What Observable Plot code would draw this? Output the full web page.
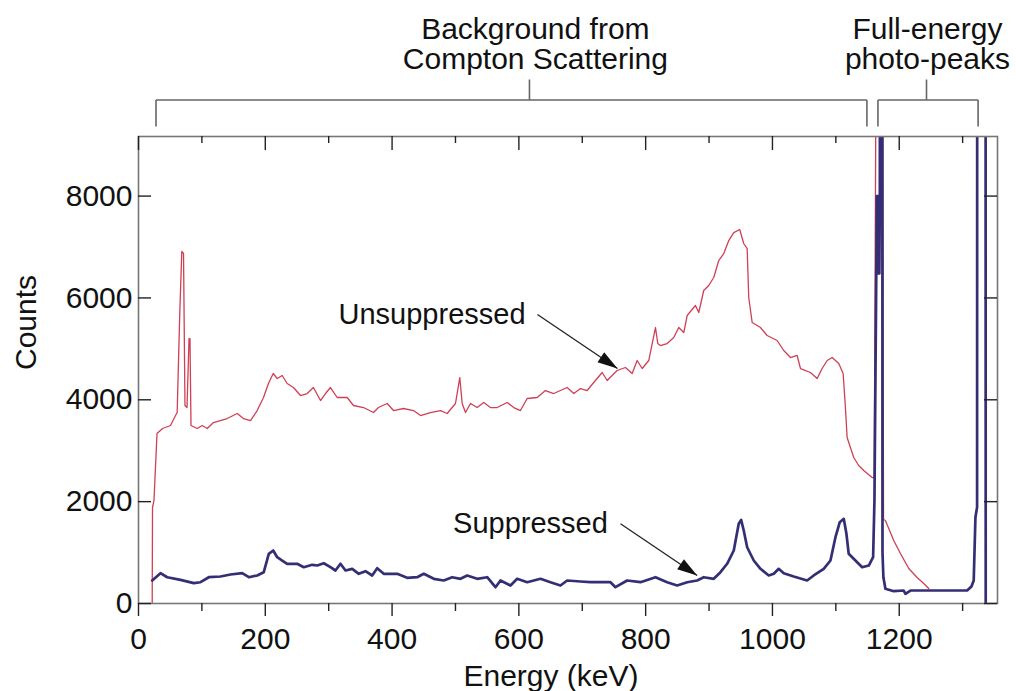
<!DOCTYPE html>
<html>
<head>
<meta charset="utf-8">
<script src="https://cdn.jsdelivr.net/npm/d3@7"></script>
<script src="https://cdn.jsdelivr.net/npm/@observablehq/plot@0.6"></script>
<style>
  html, body { margin: 0; padding: 0; background: #fff; }
  #chart svg { display: block; }
</style>
</head>
<body>
<div id="chart"></div>
<script>
// ---- Data (energy keV, counts) ----
const unsuppressed = [
  [21.6,0],[22.1,1885],[24.4,2022],[29.2,3338],[37.9,3436],[50.5,3495],[58.4,3691],[61.0,3750],
  [65.1,5694],[68.3,6912],[71.0,6872],[73.3,3888],[76.5,3848],[79.7,5203],[81.2,5203],[82.8,3495],
  [92.6,3436],[100.5,3495],[108.4,3436],[118.3,3554],[139.9,3632],[155.7,3731],[165.6,3632],[176.7,3593],
  [187.2,3789],[197.2,4045],[205.0,4320],[212.5,4516],[218.8,4418],[226.7,4477],[234.5,4320],[244.5,4241],
  [255.5,4084],[266.1,4123],[276.0,4241],[287.1,3986],[295.0,4123],[302.8,4241],[313.4,4045],[329.2,4045],
  [339.1,3888],[354.9,3848],[370.7,3750],[378.5,3848],[392.3,3927],[402.2,3789],[418.0,3829],[433.8,3789],
  [444.8,3691],[460.6,3750],[476.3,3789],[486.9,3731],[500.0,3927],[506.8,4437],[510.6,3927],[515.8,3750],
  [523.7,3927],[534.2,3848],[544.6,3947],[555.2,3848],[565.8,3848],[581.5,3947],[592.0,3848],[602.5,3789],
  [613.1,4025],[628.9,4045],[641.9,4182],[655.0,4123],[665.6,4182],[676.2,4241],[686.6,4123],[697.2,4221],
  [707.7,4182],[718.1,4339],[731.4,4536],[739.3,4379],[755.0,4575],[768.1,4634],[778.7,4516],[786.6,4771],
  [794.5,4614],[804.9,4771],[810.3,5105],[815.5,5419],[819.1,5105],[823.3,5066],[833.9,5105],[844.3,5223],
  [852.2,5419],[860.1,5321],[865.5,5655],[878.5,5851],[883.8,5714],[891.6,6146],[899.5,6244],[907.4,6401],
  [915.3,6735],[923.2,6872],[931.1,7127],[939.0,7284],[948.4,7343],[954.7,7069],[960.1,6970],[962.6,6008],
  [968.0,5517],[981.1,5419],[991.6,5262],[1007.4,5164],[1017.8,4968],[1028.4,4830],[1038.9,4870],[1044.2,4614],
  [1059.9,4536],[1070.5,4418],[1078.4,4614],[1086.3,4771],[1094.2,4830],[1104.6,4712],[1111.5,4516],[1115.1,3848],
  [1117.8,3259],[1128.2,2867],[1136.1,2710],[1144.0,2611],[1157.3,2474],[1160.5,2470],[1163.9,12000],[1173.6,12000],
  [1175.2,1650],[1178.2,1630],[1191.3,1237],[1201.9,982],[1215.0,687],[1228.2,511],[1238.6,393],[1246.5,295]
];
const suppressed = [
  [21.6,452],[34.7,595],[45.3,516],[66.2,465],[87.2,399],[97.8,418],[110.9,516],[129.3,530],
  [145.1,569],[163.6,595],[174.0,516],[187.2,550],[197.6,615],[205.5,976],[212.5,1041],[218.8,909],
  [226.7,844],[234.5,780],[250.3,780],[260.7,713],[274.0,760],[281.9,746],[292.3,791],[302.8,713],
  [310.7,648],[318.6,780],[326.5,648],[337.1,681],[347.5,583],[358.0,634],[368.6,550],[376.5,693],
  [386.9,583],[408.0,583],[423.8,505],[439.6,516],[450.0,583],[465.8,485],[481.5,452],[494.8,516],
  [507.9,485],[518.5,550],[534.2,485],[550.0,516],[563.1,320],[571.0,452],[586.8,353],[597.3,485],
  [613.1,418],[634.1,485],[649.8,418],[665.6,353],[676.2,452],[697.2,432],[712.9,418],[728.7,418],
  [744.5,418],[752.4,320],[770.8,452],[791.8,418],[815.5,516],[833.9,418],[849.7,353],[865.5,418],
  [881.2,452],[891.6,516],[907.4,485],[918.0,615],[928.5,780],[939.0,1041],[946.8,1565],[950.6,1643],
  [954.7,1433],[960.1,1105],[970.5,844],[981.1,681],[994.2,550],[1002.1,583],[1009.9,681],[1017.8,595],
  [1033.6,530],[1054.7,452],[1065.1,550],[1080.9,681],[1091.5,844],[1099.4,1302],[1106.2,1596],[1112.5,1663],
  [1116.7,1369],[1120.3,976],[1130.9,844],[1141.5,713],[1151.9,746],[1158.8,909],[1160.9,2022],[1163.8,6480],
  [1164.6,8000],[1165.4,6480],[1166.2,8000],[1167.0,6480],[1167.8,8000],[1168.6,6480],[1169.4,8000],[1170.5,40000],
  [1172.5,40000],[1173.6,1000],[1175.0,516],[1178.2,289],[1191.3,242],[1207.1,255],[1209.8,190],[1217.7,255],
  [1307.1,255],[1313.9,334],[1317.5,452],[1320.2,1694],[1322.8,1890],[1323.5,40000],[1335.8,40000],[1336.4,0]
];

const xMajorTicks = [0, 200, 400, 600, 800, 1000, 1200];
const xMinorTicks = [100, 300, 500, 700, 900, 1100, 1300];
const yTicks = [0, 2000, 4000, 6000, 8000];

const xLabel = "Energy (keV)";
const yLabel = "Counts";

// annotation brackets above the plot (in data units)
const brackets = [
  {x1: 27.6, x2: 1149, stem: 616.7, labelX: 626, label: "Background from\nCompton Scattering"},
  {x1: 1166.4, x2: 1324.4, stem: 1243, labelX: 1244.5, label: "Full-energy\nphoto-peaks"}
];
const bracketLevels = {bar: 9886, end: 9366, stem: 10289, text: 10505};

// curve labels + arrows
const curveLabels = [
  {label: "Unsuppressed", x: 463, y: 5488, ax1: 629.3, ay1: 5675, ax2: 755.5, ay2: 4614},
  {label: "Suppressed", x: 618.3, y: 1384, ax1: 760.3, ay1: 1565, ax2: 881.2, ay2: 550}
];

// ---- Style ----
const FONT = "'Liberation Sans', Arial, Helvetica, sans-serif";
const RED = "#cf3f55";
const BLUE = "#342f75";
const W = 1016, H = 691, ML = 138, MR = 19, MT = 136, MB = 88;
const innerW = W - ML - MR, innerH = H - MT - MB;

// filled arrowhead symbol, tip at origin, pointing along screen angle
const headAngle = Math.atan2(54, 80);
const arrowHead = {
  draw(context) {
    const L = 20, hw = 6;
    const ux = Math.cos(headAngle), uy = Math.sin(headAngle);
    const bx = -L * ux, by = -L * uy;
    const nx = -uy, ny = ux;
    context.moveTo(0, 0);
    context.lineTo(bx + hw * nx, by + hw * ny);
    context.lineTo(bx - hw * nx, by - hw * ny);
    context.closePath();
  }
};

const bracketSegs = brackets.flatMap(b => [
  {x1: b.x1, y1: bracketLevels.bar, x2: b.x2, y2: bracketLevels.bar},
  {x1: b.x1, y1: bracketLevels.bar, x2: b.x1, y2: bracketLevels.end},
  {x1: b.x2, y1: bracketLevels.bar, x2: b.x2, y2: bracketLevels.end},
  {x1: b.stem, y1: bracketLevels.bar, x2: b.stem, y2: bracketLevels.stem}
]);
const bracketText = brackets.map(b => ({x: b.labelX, y: bracketLevels.text, label: b.label}));

const chart = Plot.plot({
  width: W, height: H,
  marginLeft: ML, marginRight: MR, marginTop: MT, marginBottom: MB,
  style: {fontFamily: FONT, fontSize: "30px", color: "#111", background: "#fff"},
  x: {domain: [0, 1355], ticks: xMajorTicks, tickSize: 0, tickPadding: 24, tickFormat: d => String(d), label: null},
  y: {domain: [0, 9170], ticks: yTicks, tickSize: 0, tickPadding: 6, tickFormat: d => String(d), label: null},
  marks: [
    Plot.line(unsuppressed, {x: d => d[0], y: d => d[1], stroke: RED, strokeWidth: 1.3, clip: true}),
    Plot.line(suppressed, {x: d => d[0], y: d => d[1], stroke: BLUE, strokeWidth: 2.7, clip: true, strokeLinejoin: "round"}),
    Plot.frame({stroke: "#777", strokeWidth: 1.6}),
    // top ticks (inward)
    Plot.tickX(xMajorTicks, {x: d => d, insetBottom: innerH - 14, stroke: "#222", strokeWidth: 1.4}),
    Plot.tickX(xMinorTicks, {x: d => d, insetBottom: innerH - 7, stroke: "#222", strokeWidth: 1.4}),
    // bottom ticks (outward)
    Plot.tickX(xMajorTicks, {x: d => d, insetTop: innerH, insetBottom: -13, stroke: "#222", strokeWidth: 1.4}),
    Plot.tickX(xMinorTicks, {x: d => d, insetTop: innerH, insetBottom: -8, stroke: "#222", strokeWidth: 1.4}),
    // left / right ticks (inward)
    Plot.tickY(yTicks, {y: d => d, insetRight: innerW - 13, stroke: "#222", strokeWidth: 1.4}),
    Plot.tickY(yTicks, {y: d => d, insetLeft: innerW - 13, stroke: "#222", strokeWidth: 1.4}),
    // axis titles
    Plot.text([yLabel], {frameAnchor: "left", dx: -112, rotate: -90, fontSize: 30, fill: "#111"}),
    Plot.text([xLabel], {frameAnchor: "bottom", dx: -17, dy: 82, lineAnchor: "bottom", fontSize: 30, fill: "#111"}),
    // brackets
    Plot.link(bracketSegs, {x1: "x1", y1: "y1", x2: "x2", y2: "y2", stroke: "#666", strokeWidth: 1.6}),
    Plot.text(bracketText, {x: "x", y: "y", text: "label", lineAnchor: "bottom", lineHeight: 1, fontSize: 30, fill: "#111"}),
    // curve labels with arrows
    Plot.link(curveLabels, {x1: "ax1", y1: "ay1", x2: "ax2", y2: "ay2", stroke: "#222", strokeWidth: 1.3}),
    Plot.dot(curveLabels, {x: "ax2", y: "ay2", symbol: arrowHead, r: 5, fill: "#111", stroke: "none"}),
    Plot.text(curveLabels, {x: "x", y: "y", text: "label", lineAnchor: "bottom", fontSize: 29, fill: "#111"})
  ]
});
document.getElementById("chart").appendChild(chart);
</script>
</body>
</html>
